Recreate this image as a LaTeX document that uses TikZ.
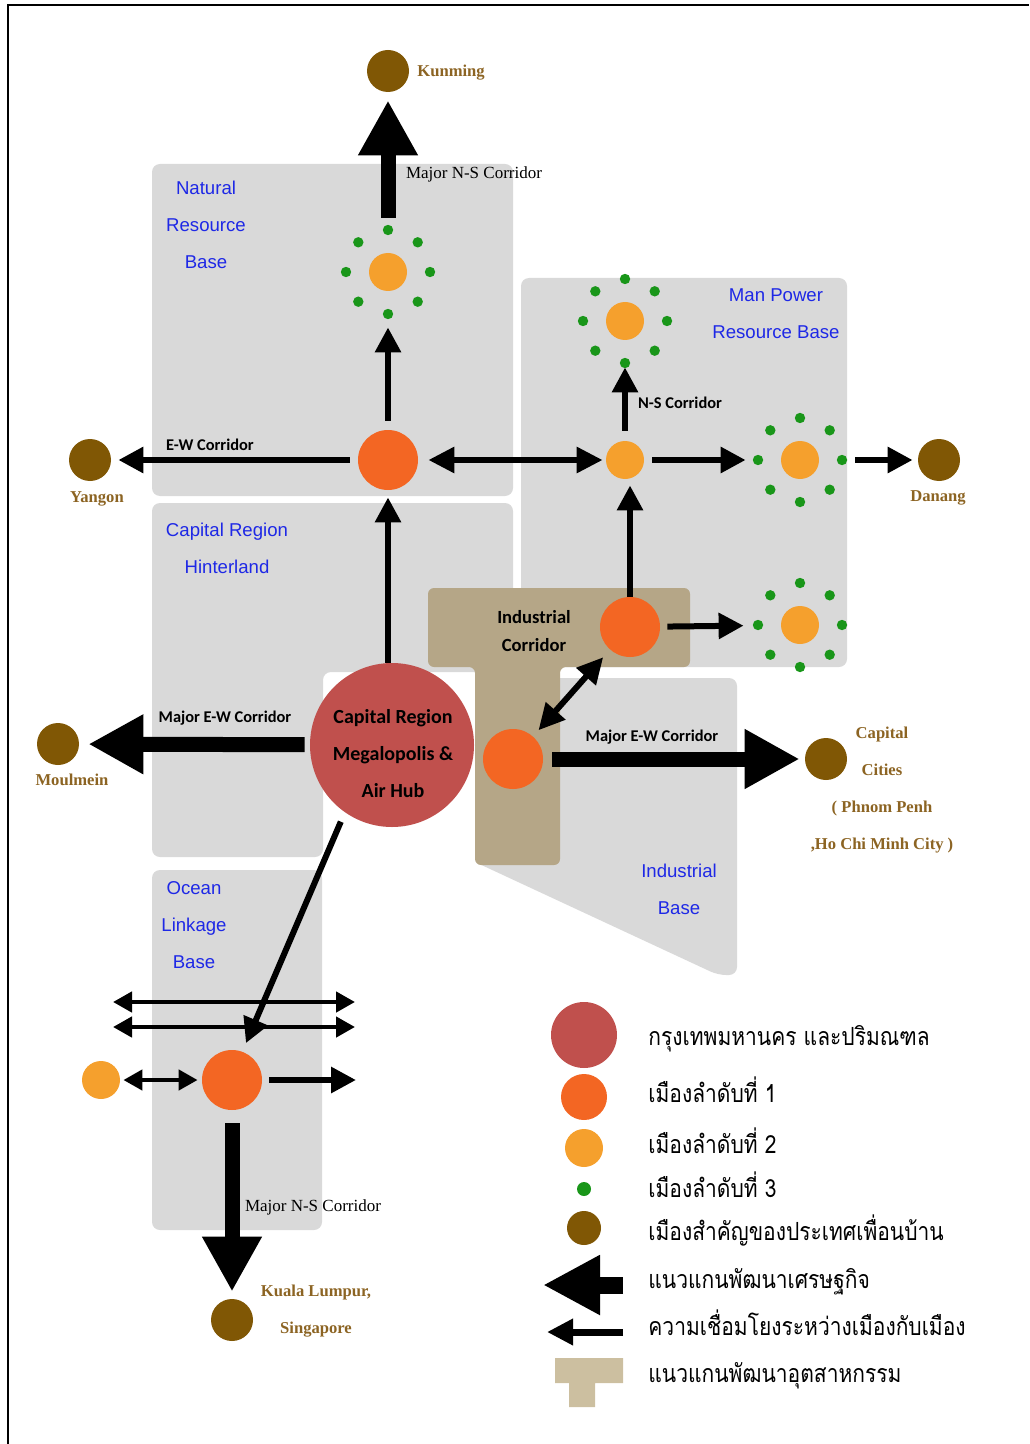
\documentclass[tikz,border=0pt]{standalone}
\usepackage{fontspec}
\setmainfont{Liberation Serif}
\setsansfont{Liberation Sans}
\newfontfamily\corfont{Carlito}
\newfontfamily\thaifont[Script=Thai,FakeStretch=0.84]{Loma}
\usepackage{tikz}
\usetikzlibrary{arrows.meta}
\definecolor{zonegrey}{RGB}{217,217,217}
\definecolor{zoneblue}{RGB}{30,40,230}
\definecolor{indtan}{RGB}{181,166,135}
\definecolor{legtan}{RGB}{204,191,160}
\definecolor{capred}{RGB}{192,80,77}
\definecolor{tierone}{RGB}{243,102,35}
\definecolor{tiertwo}{RGB}{245,160,45}
\definecolor{tierthree}{RGB}{25,150,25}
\definecolor{nbrbrown}{RGB}{128,87,5}
\definecolor{nbrtext}{RGB}{140,100,35}

\begin{document}
\begin{tikzpicture}[x=0.5pt,y=-0.5pt,
  zone/.style={fill=zonegrey,rounded corners=4pt},
  tier1/.style={circle,fill=tierone,minimum size=30pt,inner sep=0pt},
  tier2/.style={circle,fill=tiertwo,minimum size=19pt,inner sep=0pt},
  nbr/.style={circle,fill=nbrbrown,minimum size=21pt,inner sep=0pt},
  major/.style={line width=7.5pt,-{Triangle[length=27.5pt,width=28pt]}},
  link/.style={line width=3pt,-{Triangle[length=12.5pt,width=12.5pt]}},
  linkboth/.style={line width=3pt,{Triangle[length=13pt,width=12.5pt]}-{Triangle[length=13pt,width=12.5pt]}},
  sealink/.style={line width=2.2pt,{Triangle[length=9.5pt,width=10pt]}-{Triangle[length=9.5pt,width=10pt]}},
  zonelabel/.style={text=zoneblue,align=center,inner sep=0pt,font=\sffamily\fontsize{9.3}{18.5}\selectfont},
  corlabel/.style={inner sep=0pt,font=\corfont\bfseries\fontsize{8.2}{10}\selectfont},
  indlabel/.style={inner sep=0pt,align=center,font=\corfont\bfseries\fontsize{9.3}{14}\selectfont},
  hubtext/.style={inner sep=0pt,align=center,font=\corfont\bfseries\fontsize{10}{18.5}\selectfont},
  serlabel/.style={inner sep=0pt,font=\rmfamily\fontsize{8.5}{10}\selectfont},
  citylabel/.style={text=nbrtext,inner sep=0pt,align=center,font=\rmfamily\bfseries\fontsize{8.3}{18.6}\selectfont},
  legtext/.style={anchor=base west,inner sep=0pt,font=\thaifont\fontsize{12.5}{15}\selectfont}]
\useasboundingbox(0,0)rectangle(1029,1444);
\draw[line width=1pt](8,1444)--(8,5)--(1029,5);

\fill[zone](152,164)rectangle(513,496);
\fill[zone](521,278)rectangle(847,667);
\fill[zone](152,503)--(513,503)--(513,672)--(323,672)--(323,857)--(152,857)--cycle;
\fill[zone](152,870)rectangle(322,1230);
\fill[zone](475,678)--(737,678)--(737,975)--(718,975)--(475,862)--cycle;
\fill[indtan,rounded corners=3pt](428,588)--(690,588)--(690,667)--(560,667)--(560,865)--(475,865)--(475,667)--(428,667)--cycle;

\node[zonelabel](lblNatural)at(206,225){Natural\\Resource\\Base};
\node[zonelabel](lblManPower)at(776,314){Man Power\\Resource Base};
\node[zonelabel](lblHinter)at(227,548){Capital Region\\Hinterland};
\node[zonelabel](lblOcean)at(194,925){Ocean\\Linkage\\Base};
\node[zonelabel](lblIndBase)at(679,889){Industrial\\Base};

\node[circle,fill=capred,minimum size=82pt,inner sep=0pt](capital)at(392,745){};
\node[hubtext](lblCapital)at(393,754){Capital Region\\Megalopolis \&\\Air Hub};
\node[tier1](cityN)at(388,460){};
\node[tier1](cityInd)at(630,627){};
\node[tier1](cityEW)at(513,759){};
\node[tier1](citySea)at(232,1080){};
\node[tier2](secN)at(388,272){};
\node[tier2](secNE)at(625,321){};
\node[tier2](secE)at(625,460){};
\node[tier2](secE2)at(800,460){};
\node[tier2](secSE)at(800,625){};
\node[tier2](secW)at(101,1080){};
\foreach \c in {secN,secNE,secE2,secSE}
  \foreach \a in {0,45,...,315}
    \fill[tierthree](\c)++(\a:21pt)circle(2.6pt);
\node[nbr](kunming)at(388,71){};
\node[nbr](yangon)at(90,460){};
\node[nbr](moulmein)at(58,744){};
\node[nbr](danang)at(939,460){};
\node[nbr](capcities)at(826,759){};
\node[nbr](kl)at(232,1320){};

\draw[major,shorten <=17.5pt,shorten >=4pt](secN)--(kunming);
\draw[major,shorten <=2.5pt,shorten >=4.5pt](capital)--(moulmein);
\draw[major,shorten <=4.5pt,shorten >=2.5pt](cityEW)--(capcities);
\draw[major,shorten <=6.5pt,shorten >=3.5pt](citySea)--(kl);
\draw[link,shorten <=4pt,shorten >=3.5pt](cityN)--(yangon);
\draw[linkboth,shorten <=5pt,shorten >=1.5pt](cityN)--(secE);
\draw[link,shorten <=4.5pt,shorten >=18pt](cityN)--(secN);
\draw[link,shorten >=3.5pt](capital.north -| cityN)--(cityN);
\draw[link,shorten >=3pt](cityInd.north)--(cityInd.north |- secE.south);
\draw[link,shorten <=5pt,shorten >=13.5pt](secE)--(secNE);
\draw[link,shorten <=4pt,shorten >=17.5pt](secE)--(secE2);
\draw[link,shorten <=18pt,shorten >=2.5pt](secE2)--(danang);
\draw[link,shorten <=3.5pt,shorten >=18.5pt](cityInd)--(secSE);
\draw[linkboth,shorten <=5pt,shorten >=4pt](cityInd)--(cityEW);
\draw[link,shorten <=5pt,shorten >=4.5pt](capital.235)--(citySea.70);
\coordinate(seaW1)at(113,1002);
\coordinate(seaE1)at(355,1002);
\coordinate(seaW2)at(113,1027);
\coordinate(seaE2)at(355,1027);
\coordinate(seaOut)at(356,1080);
\draw[sealink](seaW1)--(seaE1);
\draw[sealink](seaW2)--(seaE2);
\draw[sealink,shorten <=1.5pt,shorten >=2pt](secW)--(citySea);
\draw[link,shorten <=3.5pt](citySea)--(seaOut);

\node[corlabel](lblEW)at(210,445){E-W Corridor};
\node[corlabel](lblNS)at(680,403){N-S Corridor};
\node[corlabel](lblMajW)at(225,718){Major E-W Corridor};
\node[corlabel](lblMajE)at(652,737){Major E-W Corridor};
\node[indlabel](lblIndCor)at(534,631){Industrial\\Corridor};
\node[serlabel](lblMajN)at(474,174){Major N-S Corridor};
\node[serlabel](lblMajS)at(313,1207){Major N-S Corridor};
\node[citylabel,anchor=west](lblKunming)at(417,73){Kunming};
\node[citylabel](lblYangon)at(97,499){Yangon};
\node[citylabel](lblMoulmein)at(72,780){Moulmein};
\node[citylabel](lblDanang)at(938,498){Danang};
\node[citylabel](lblCapCities)at(882,790){Capital\\Cities\\( Phnom Penh\\,Ho Chi Minh City )};
\node[citylabel](lblKL)at(316,1311){Kuala Lumpur,\\Singapore};

\node[circle,fill=capred,minimum size=33pt,inner sep=0pt](legCap)at(584,1035){};
\node[circle,fill=tierone,minimum size=23pt,inner sep=0pt](legT1)at(584,1097){};
\node[circle,fill=tiertwo,minimum size=19pt,inner sep=0pt](legT2)at(584,1148){};
\node[circle,fill=tierthree,minimum size=7pt,inner sep=0pt](legT3)at(584,1189){};
\node[circle,fill=nbrbrown,minimum size=17pt,inner sep=0pt](legNbr)at(584,1228){};
\coordinate(legMajS)at(623,1285);
\coordinate(legMajE)at(543,1285);
\coordinate(legLinkS)at(623,1332);
\coordinate(legLinkE)at(547,1332);
\draw[line width=8.5pt,-{Triangle[length=28.5pt,width=28pt]}](legMajS)--(legMajE);
\draw[line width=3.5pt,-{Triangle[length=13pt,width=12.5pt]}](legLinkS)--(legLinkE);
\fill[legtan](555,1358)--(623,1358)--(623,1383)--(595,1383)--(595,1407)--(569,1407)--(569,1383)--(555,1383)--cycle;

\node[legtext](legtxtCap)at(648,1045){กรุงเทพมหานคร และปริมณฑล};
\node[legtext](legtxtT1)at(648,1102){เมืองลำดับที่ 1};
\node[legtext](legtxtT2)at(648,1153){เมืองลำดับที่ 2};
\node[legtext](legtxtT3)at(648,1197){เมืองลำดับที่ 3};
\node[legtext](legtxtNbr)at(648,1240){เมืองสำคัญของประเทศเพื่อนบ้าน};
\node[legtext](legtxtMaj)at(648,1288){แนวแกนพัฒนาเศรษฐกิจ};
\node[legtext](legtxtLink)at(648,1335){ความเชื่อมโยงระหว่างเมืองกับเมือง};
\node[legtext](legtxtInd)at(648,1382){แนวแกนพัฒนาอุตสาหกรรม};
\end{tikzpicture}
\end{document}
